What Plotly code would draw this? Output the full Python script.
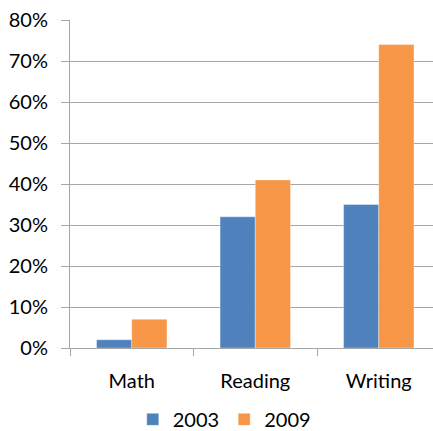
import plotly.graph_objects as go

subjects = ["Math", "Reading", "Writing"]
pct_2003 = [0.02, 0.32, 0.35]
pct_2009 = [0.07, 0.41, 0.74]
series_names = ["2003", "2009"]
y_ticks = [0, 0.1, 0.2, 0.3, 0.4, 0.5, 0.6, 0.7, 0.8]

blue = "#4F81BD"
orange = "#F79646"
grid = "#A6A6A6"
font_family = "Lato, 'Open Sans', sans-serif"

fig = go.Figure()
fig.add_trace(go.Bar(x=subjects, y=pct_2003, name=series_names[0],
                     marker=dict(color=blue, line=dict(color="rgba(255,255,255,0.35)", width=1))))
fig.add_trace(go.Bar(x=subjects, y=pct_2009, name=series_names[1],
                     marker=dict(color=orange, line=dict(color="rgba(255,255,255,0.35)", width=1))))

fig.update_layout(
    width=433, height=431,
    margin=dict(l=70, r=0, t=20, b=83, autoexpand=False),
    paper_bgcolor="white", plot_bgcolor="white",
    barmode="group", bargap=0.43, bargroupgap=0,
    font=dict(family=font_family, size=20, color="#000000"),
    showlegend=True,
    legend=dict(orientation="h", x=0.425, xanchor="center",
                yref="container", y=0.027, yanchor="middle",
                font=dict(size=20), itemwidth=30, tracegroupgap=0),
)
fig.update_xaxes(
    range=[-0.5, 2.439], showline=True, linecolor=grid, linewidth=1,
    ticks="outside", tickson="boundaries", ticklen=7, tickcolor=grid,
    ticklabelstandoff=15, automargin=False,
    showgrid=False, tickfont=dict(size=20), fixedrange=True,
)
fig.update_yaxes(
    range=[0, 0.8], tickvals=y_ticks, tickformat=".0%",
    showgrid=True, gridcolor=grid, gridwidth=1,
    showline=True, linecolor=grid, linewidth=1,
    ticks="outside", ticklen=8, tickcolor=grid,
    ticklabelstandoff=9, automargin=False,
    tickfont=dict(size=20), zeroline=False, fixedrange=True,
)

fig.write_html("out.html")
